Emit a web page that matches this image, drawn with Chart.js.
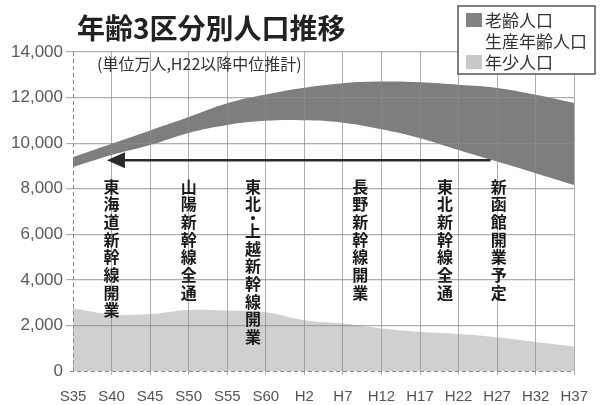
<!DOCTYPE html>
<html lang="ja">
  <head>
    <meta charset="UTF-8" />
    <title>年齢3区分別人口推移</title>
    <style>
      html, body { margin: 0; padding: 0; background: #fff; }
      canvas { display: block; }
    </style>
  </head>
  <body>
    <canvas id="myChart" width="601" height="405"></canvas>

    <script src="https://cdn.jsdelivr.net/npm/chart.js"></script>
    <script>
      // 値は図から読み取り（単位万人）
      const labels = ['S35', 'S40', 'S45', 'S50', 'S55', 'S60', 'H2', 'H7', 'H12', 'H17', 'H22', 'H27', 'H32', 'H37'];
      const young   = [2750, 2480, 2500, 2680, 2660, 2580, 2230, 2080, 1870, 1720, 1620, 1480, 1270, 1070];
      const working = [6200, 7000, 7420, 7770, 8140, 8400, 8770, 8820, 8740, 8500, 8080, 7710, 7410, 7090];
      const elderly = [ 430,  490,  640,  700,  950, 1150, 1430, 1730, 2090, 2450, 2860, 3230, 3440, 3600];
      const yMax = 14000;
      const yStep = 2000;

      const events = ['東海道新幹線開業', '山陽新幹線全通', '東北・上越新幹線開業', '長野新幹線開業', '東北新幹線全通', '新函館開業予定'];
      const eventAt = [1, 3, 4.67, 7.45, 9.65, 11.04];

      const CJK = '"Noto Sans CJK JP", "Noto Sans", sans-serif';
      Chart.defaults.font.family = '"Liberation Sans", Arial, sans-serif';

      const gridColor = (c) => (c.index === 0 ? 'rgba(0,0,0,0)' : 'rgba(140,140,140,0.7)');

      // タイトル・凡例・矢印・縦書き注記
      const decorations = {
        id: 'decorations',
        beforeDraw(chart) {
          const ctx = chart.ctx;
          ctx.save();
          ctx.fillStyle = '#fff';
          ctx.fillRect(0, 0, chart.width, chart.height);
          ctx.restore();
        },
        afterDraw(chart) {
          const ctx = chart.ctx;
          const x = chart.scales.x, y = chart.scales.y;
          const area = chart.chartArea;
          ctx.save();

          // dashed axis lines
          ctx.strokeStyle = '#888';
          ctx.lineWidth = 1;
          ctx.setLineDash([4, 3]);
          ctx.beginPath();
          ctx.moveTo(area.left + 0.5, area.top);
          ctx.lineTo(area.left + 0.5, area.bottom + 3);
          ctx.moveTo(area.left - 3, area.bottom + 0.5);
          ctx.lineTo(area.right, area.bottom + 0.5);
          ctx.stroke();
          ctx.setLineDash([]);

          // title
          ctx.fillStyle = '#222';
          ctx.font = 'bold 28px ' + CJK;
          ctx.textBaseline = 'middle';
          ctx.textAlign = 'left';
          ctx.fillText('年齢3区分別人口推移', 77, 28);

          ctx.fillStyle = '#333';
          ctx.font = '16px ' + CJK;
          ctx.fillText('(単位万人,H22以降中位推計)', 97, 64);

          // legend
          ctx.fillStyle = '#fff';
          ctx.fillRect(458, 6, 137, 68);
          ctx.strokeStyle = '#555';
          ctx.lineWidth = 1.5;
          ctx.strokeRect(458, 6, 137, 68);
          const ds = chart.data.datasets.slice().reverse();
          ds.forEach((d, i) => {
            const cy = 20 + i * 21;
            ctx.fillStyle = d.legendColor;
            ctx.fillRect(466, cy - 7, 16, 14);
            ctx.fillStyle = '#333';
            ctx.font = '17px ' + CJK;
            ctx.textBaseline = 'middle';
            ctx.fillText(d.label, 485, cy + 1);
          });

          // arrow
          const ay = y.getPixelForValue(9250);
          const ax0 = x.getPixelForValue(10.83);
          const ax1 = x.getPixelForValue(0.88);
          ctx.strokeStyle = '#2a2a2a';
          ctx.fillStyle = '#2a2a2a';
          ctx.lineWidth = 2.5;
          ctx.beginPath();
          ctx.moveTo(ax0, ay);
          ctx.lineTo(ax1 + 15, ay);
          ctx.stroke();
          ctx.beginPath();
          ctx.moveTo(ax1, ay);
          ctx.lineTo(ax1 + 18, ay - 8);
          ctx.lineTo(ax1 + 18, ay + 8);
          ctx.closePath();
          ctx.fill();

          // vertical notes
          ctx.fillStyle = '#1a1a1a';
          ctx.font = 'bold 16px ' + CJK;
          ctx.textAlign = 'center';
          ctx.textBaseline = 'top';
          const top = y.getPixelForValue(8450);
          events.forEach((t, i) => {
            const cx = x.getPixelForValue(eventAt[i]);
            let yy = top;
            for (const ch of t) {
              if (ch === '・') {
                ctx.fillText(ch, cx, yy - 4);
                yy += 9;
              } else {
                ctx.fillText(ch, cx, yy);
                yy += 17.7;
              }
            }
          });

          ctx.restore();
        }
      };

      new Chart(document.getElementById('myChart'), {
        type: 'line',
        data: {
          labels: labels,
          datasets: [
            {
              label: '年少人口',
              data: young,
              fill: 'origin',
              backgroundColor: 'rgb(208,208,208)',
              legendColor: 'rgb(200,200,200)',
              borderWidth: 0,
            },
            {
              label: '生産年齢人口',
              data: working,
              fill: false,
              backgroundColor: 'rgba(0,0,0,0)',
              legendColor: 'rgba(0,0,0,0)',
              borderWidth: 0,
            },
            {
              label: '老齢人口',
              data: elderly,
              fill: '-1',
              backgroundColor: 'rgb(126,126,126)',
              legendColor: 'rgb(130,130,130)',
              borderWidth: 0,
            }
          ]
        },
        options: {
          responsive: false,
          animation: false,
          layout: { padding: { top: 52, right: 14, left: 0, bottom: 0 } },
          elements: {
            point: { radius: 0 },
            line: { tension: 0.4 }
          },
          plugins: {
            legend: { display: false },
            tooltip: { enabled: false }
          },
          scales: {
            x: {
              offset: false,
              grid: { color: gridColor, z: 1, tickLength: 4, lineWidth: 1 },
              border: { display: false },
              ticks: { color: '#555', font: { size: 15 }, padding: 13, maxRotation: 0, autoSkip: false },
              afterFit(scale) { scale.height = 34; }
            },
            y: {
              stacked: true,
              min: 0,
              max: yMax,
              grid: { color: gridColor, z: 1, tickLength: 7, lineWidth: 1.2 },
              border: { display: false },
              ticks: { stepSize: yStep, color: '#5a5a5a', font: { size: 17 }, padding: 3 },
              afterFit(scale) { scale.width = 73; }
            }
          }
        },
        plugins: [decorations]
      });
    </script>
  </body>
</html>
